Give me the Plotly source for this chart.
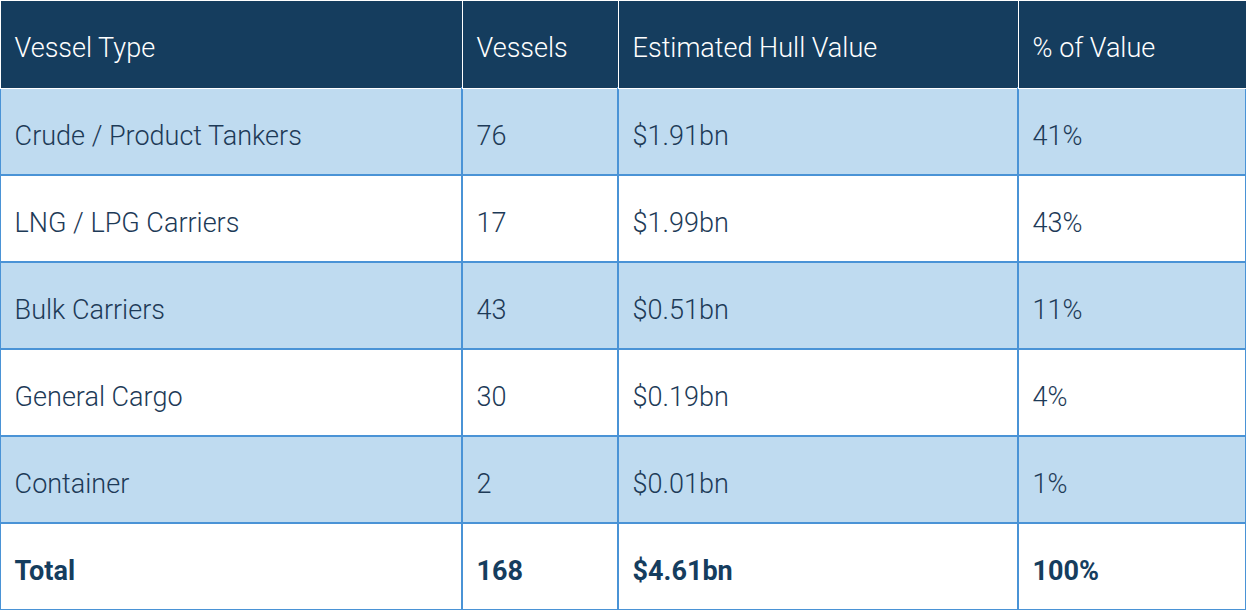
import plotly.graph_objects as go

# data
header_labels = ["Vessel Type", "Vessels", "Estimated Hull Value", "% of Value"]
vessel_types = ["Crude / Product Tankers", "LNG / LPG Carriers", "Bulk Carriers",
                "General Cargo", "Container", "<b>Total</b>"]
vessel_counts = ["76", "17", "43", "30", "2", "<b>168</b>"]
hull_values = ["$1.91bn", "$1.99bn", "$0.51bn", "$0.19bn", "$0.01bn", "<b>$4.61bn</b>"]
value_shares = ["41%", "43%", "11%", "4%", "1%", "<b>100%</b>"]

NAVY = "#153d5e"
LIGHT = "#bfdbf0"
BORDER = "#4a93d6"
TEXT = "#1d3a57"
FONT = "Roboto"
SIZE = 27


def pad(labels):
    # push text down to the vertical middle and in a bit from the left edge
    return ["\u00a0<br><sup><span style='font-size:143%'>\u00a0" + s + "</span></sup>"
            for s in labels]


row_fill = [LIGHT if i % 2 == 0 else "white" for i in range(len(vessel_types))]
row_font = [TEXT] * 5 + [NAVY]

fig = go.Figure(go.Table(
    columnwidth=[462, 156, 400, 228],
    header=dict(
        values=pad(header_labels),
        fill_color=NAVY,
        line=dict(color="white", width=1),
        align="left",
        height=88,
        font=dict(family=FONT, size=SIZE, color="white", weight=300),
    ),
    cells=dict(
        values=[pad(vessel_types), pad(vessel_counts), pad(hull_values), pad(value_shares)],
        fill_color=[row_fill] * 4,
        line=dict(color=BORDER, width=2),
        align="left",
        height=87,
        font=dict(family=FONT, size=SIZE, color=[row_font] * 4, weight=300),
    ),
    domain=dict(x=[0, 1], y=[0, 1]),
))

fig.update_layout(
    width=1246,
    height=610,
    margin=dict(l=0, r=0, t=0, b=0),
    paper_bgcolor="white",
)

fig.write_html("out.html", config={"displayModeBar": False},
               post_script="document.body.style.margin='0';")
